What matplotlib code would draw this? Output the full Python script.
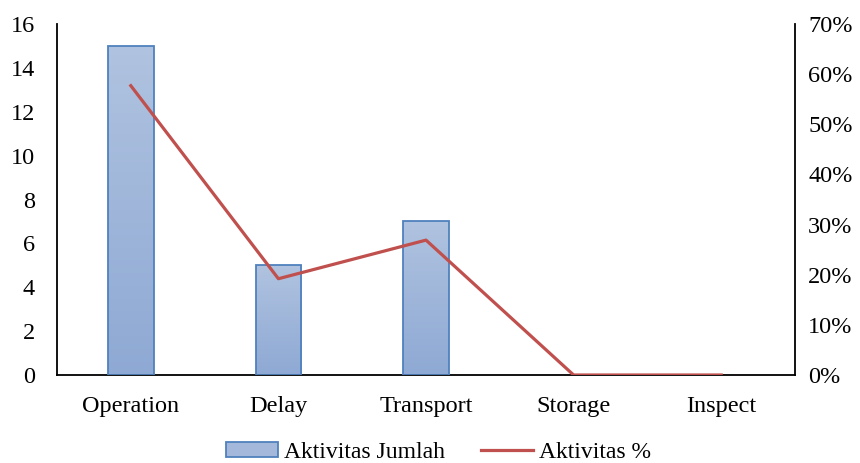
import matplotlib
matplotlib.use("Agg")
import matplotlib.pyplot as plt
import numpy as np
from matplotlib.colors import LinearSegmentedColormap
from matplotlib.patches import Patch
from matplotlib.lines import Line2D

categories = ["Operation", "Delay", "Transport", "Storage", "Inspect"]
jumlah = [15, 5, 7, 0, 0]
persen = [57.7, 19.2, 26.9, 0, 0]
left_ticks = [0, 2, 4, 6, 8, 10, 12, 14, 16]
right_ticks = [0, 10, 20, 30, 40, 50, 60, 70]

plt.rcParams['font.family'] = ['Liberation Serif', 'DejaVu Serif']
plt.rcParams['font.size'] = 17.5

fig = plt.figure(figsize=(8.6, 4.63), dpi=100)
ax = fig.add_axes([57/860, 1-375/463, (795-57)/860, (375-24)/463])
x = np.arange(len(categories))
bars = ax.bar(x, jumlah, width=0.31, color='none', edgecolor='#4F81BD', linewidth=1.3, zorder=3)
cmap = LinearSegmentedColormap.from_list('g', ['#8EA9D4', '#B0C3E0'])
grad = np.linspace(0, 1, 256).reshape(-1, 1)
for b in bars:
    h = b.get_height()
    if h <= 0:
        b.set_visible(False)
        continue
    x0 = b.get_x(); w = b.get_width()
    im = ax.imshow(grad, extent=[x0, x0 + w, 0, h], origin='lower', cmap=cmap,
                   aspect='auto', zorder=2)
    im.set_clip_path(b)
ax.set_xlim(-0.5, 4.5)
ax.set_ylim(0, 16)
ax.set_yticks(left_ticks)
ax.set_xticks(x)
ax.set_xticklabels(categories)
ax.tick_params(axis='y', length=0, pad=16)
ax.tick_params(axis='x', length=0, pad=15)
ax.spines['top'].set_visible(False)
ax.spines['left'].set_linewidth(1.3)
ax.spines['bottom'].set_linewidth(1.3)
ax.spines['right'].set_visible(False)

ax2 = ax.twinx()
ax2.plot(x, persen, color='#C0504D', linewidth=2.3, zorder=4)
ax2.set_ylim(0, 70)
ax2.set_yticks(right_ticks)
ax2.set_yticklabels([f"{t}%" for t in right_ticks])
ax2.tick_params(length=0, pad=9.5)
ax2.spines['top'].set_visible(False)
ax2.spines['left'].set_visible(False)
ax2.spines['bottom'].set_visible(False)
ax2.spines['right'].set_linewidth(1.3)

handles = [Patch(facecolor='#A3B8DB', edgecolor='#4F81BD', linewidth=1.3),
           Line2D([0], [0], color='#C0504D', linewidth=2.3)]
fig.legend(handles, ['Aktivitas Jumlah', 'Aktivitas %'], loc='center',
           bbox_to_anchor=(438.5/860, 1-452/463), ncol=2, frameon=False, fontsize=17,
           handlelength=2.2, handleheight=0.6, columnspacing=1.5, handletextpad=0.25,
           borderpad=0.1)

fig.savefig("out.png", dpi=100)
